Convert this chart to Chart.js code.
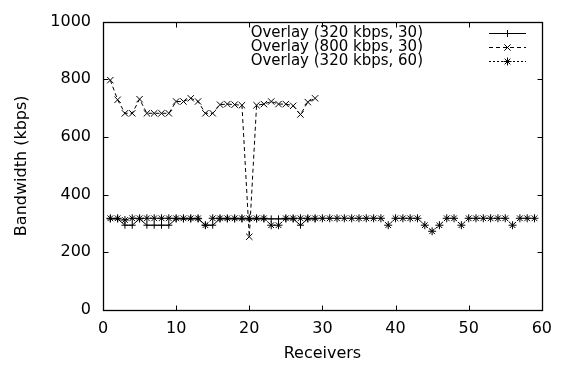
<!DOCTYPE html>
<html>
<head>
<meta charset="utf-8">
<script src="https://cdn.jsdelivr.net/npm/chart.js@4/dist/chart.umd.min.js"></script>
<style>
html,body{margin:0;padding:0;background:#fff;}
#wrap{width:561px;height:369px;position:relative;}
</style>
</head>
<body>
<div id="wrap"><canvas id="c" width="561" height="369"></canvas></div>
<script>
const receivers30 = [1,2,3,4,5,6,7,8,9,10,11,12,13,14,15,16,17,18,19,20,21,22,23,24,25,26,27,28,29];
const receivers60 = [1,2,3,4,5,6,7,8,9,10,11,12,13,14,15,16,17,18,19,20,21,22,23,24,25,26,27,28,29,30,
  31,32,33,34,35,36,37,38,39,40,41,42,43,44,45,46,47,48,49,50,51,52,53,54,55,56,57,58,59];
const overlay320_30 = [316,316,294,294,316,294,294,294,294,316,
  316,316,316,294,294,316,316,316,316,316,
  316,316,316,316,316,316,294,316,316];
const overlay800_30 = [797,729,682,682,731,682,682,682,682,723,
  723,734,723,682,682,712,714,712,710,254,
  710,714,723,714,714,708,678,721,734];
const overlay320_60 = [318,318,312,318,318,318,318,318,318,318,
  318,318,318,294,318,318,318,318,318,318,
  318,318,294,294,318,318,318,318,318,318,
  318,318,318,318,318,318,318,318,294,318,
  318,318,318,294,273,294,318,318,294,318,
  318,318,318,318,318,294,318,318,318];
const seriesLabels = ["Overlay (320 kbps, 30)", "Overlay (800 kbps, 30)", "Overlay (320 kbps, 60)"];
const xTickValues = [0,10,20,30,40,50,60];
const yTickValues = [0,200,400,600,800,1000];
const xTitle = "Receivers";
const yTitle = "Bandwidth (kbps)";

function pts(xs, ys){ return xs.map((x,i)=>({x:x, y:ys[i]})); }

const FONT = '"DejaVu Sans", "Liberation Sans", sans-serif';
Chart.defaults.color = '#000';
Chart.defaults.font.family = FONT;

const frameAndKey = {
  id: 'frameAndKey',
  afterDraw(chart){
    const ctx = chart.ctx, a = chart.chartArea;
    const xs = chart.scales.x, ys = chart.scales.y;
    ctx.save();
    ctx.strokeStyle = '#000';
    ctx.lineWidth = 1.3;
    ctx.setLineDash([]);
    const L = Math.round(a.left)+0.5, R = Math.round(a.right)+0.5, T = Math.round(a.top)+0.5, B = Math.round(a.bottom)+0.5;
    ctx.strokeRect(L, T, R-L, B-T);
    const tl = 5;
    ctx.lineWidth = 1;
    ctx.beginPath();
    xs.ticks.forEach(t=>{
      const px = Math.round(xs.getPixelForValue(t.value))+0.5;
      ctx.moveTo(px, B); ctx.lineTo(px, B-tl);
      ctx.moveTo(px, T); ctx.lineTo(px, T+tl);
    });
    ys.ticks.forEach(t=>{
      const py = Math.round(ys.getPixelForValue(t.value))+0.5;
      ctx.moveTo(L, py); ctx.lineTo(L+tl, py);
      ctx.moveTo(R, py); ctx.lineTo(R-tl, py);
    });
    ctx.stroke();
    // key
    ctx.font = '15px ' + FONT;
    ctx.fillStyle = '#000';
    ctx.textAlign = 'right';
    ctx.textBaseline = 'middle';
    chart.data.datasets.forEach((ds,i)=>{
      const y = 33 + 14.2*i;
      ctx.fillText(ds.label, 423, y);
      ctx.save();
      ctx.lineWidth = 1;
      ctx.setLineDash(ds.borderDash || []);
      ctx.beginPath();
      ctx.moveTo(489, Math.round(y)+0.5); ctx.lineTo(526, Math.round(y)+0.5);
      ctx.stroke();
      ctx.setLineDash([]);
      Chart.helpers.drawPoint(ctx, {pointStyle: ds.pointStyle, radius: ds.pointRadius, borderWidth: 1, rotation: 0}, 507.5, Math.round(y)+0.5);
      ctx.restore();
    });
    ctx.restore();
  }
};

const common = {borderColor:'#000', backgroundColor:'#000', pointBorderColor:'#000', pointBackgroundColor:'#000', borderWidth:1, pointBorderWidth:1, tension:0, fill:false};

new Chart(document.getElementById('c'), {
  type: 'line',
  data: {
    datasets: [
      Object.assign({label: seriesLabels[0], data: pts(receivers30, overlay320_30), pointStyle:'cross', pointRadius:3.5, borderDash:[], order:3}, common),
      Object.assign({label: seriesLabels[1], data: pts(receivers30, overlay800_30), pointStyle:'crossRot', pointRadius:4.5, borderDash:[4,3], order:2}, common),
      Object.assign({label: seriesLabels[2], data: pts(receivers60, overlay320_60), pointStyle:'star', pointRadius:4, borderDash:[2,2], order:1}, common)
    ]
  },
  options: {
    responsive: false,
    animation: false,
    events: [],
    layout: {padding: {left: 12, right: 11, top: 15, bottom: 0}},
    plugins: {legend: {display:false}, tooltip: {enabled:false}},
    scales: {
      x: {
        type: 'linear', min: 0, max: 60,
        afterBuildTicks(s){ s.ticks = xTickValues.map(v=>({value:v})); },
        afterFit(s){ s.height = 59; },
        grid: {display:false, drawTicks:false},
        border: {display:false},
        ticks: {font:{size:16}, padding: 9, maxRotation:0, color:'#000', callback:(v)=>String(v)},
        title: {display:true, text: xTitle, font:{size:16}, padding:{top:0, bottom:6}, color:'#000'}
      },
      y: {
        type: 'linear', min: 0, max: 1000,
        afterBuildTicks(s){ s.ticks = yTickValues.map(v=>({value:v})); },
        afterFit(s){ s.width = 91; },
        grid: {display:false, drawTicks:false},
        border: {display:false},
        ticks: {font:{size:16}, padding: 12, color:'#000', callback:(v)=>String(v)},
        title: {display:true, text: yTitle, font:{size:16}, padding:{top:0, bottom:0}, color:'#000'}
      }
    }
  },
  plugins: [frameAndKey]
});
</script>
</body>
</html>
